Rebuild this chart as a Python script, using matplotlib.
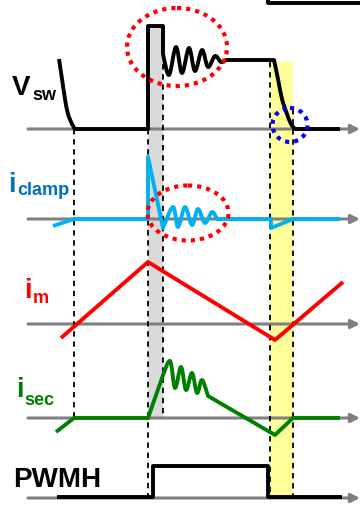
import numpy as np
import matplotlib
matplotlib.use("Agg")
import matplotlib.pyplot as plt
from matplotlib.path import Path
from matplotlib.patches import PathPatch, Ellipse, Rectangle

plt.rcParams['font.family'] = ['Liberation Sans', 'DejaVu Sans']

# ---------- waveform data (time in px, level relative to each trace's baseline, up = +) ----------
vsw_t = [59, 62, 65, 68, 72, 75, 148, 148, 163, 163, 169, 176, 182, 189, 195, 202, 208, 215, 221, 226,
         274, 278, 282, 287, 291, 295, 340]
vsw_v = [70, 50, 30, 15, 5, 0, 0, 103, 103, 75, 54, 82, 56, 81, 58, 79, 62, 73, 67, 69,
         69, 50, 30, 15, 5, 0, 0]
vsw_prev_t = [268, 268, 362]
vsw_prev_v = [131, 126, 126]

iclamp_t = [53, 74, 148, 148, 163, 173, 178, 185, 192, 198, 205, 212, 217, 271, 271, 293, 340]
iclamp_v = [-7, 0, 0, 62, -9, 12, -8, 12, -6, 10, -4, 7, 0, 0, -9, 0, 0]

im_t = [61, 148, 275, 343]
im_v = [-14, 62, -16, 42]

isec_t = [56, 74, 148, 162, 170, 175, 181, 186, 192, 197, 202, 208, 275, 293, 340]
isec_v = [-14, 0, 0, 40, 57, 30, 51, 28, 45, 25, 38, 22, -17, 0, 0]

pwmh_t = [57, 153, 153, 268, 268, 342]
pwmh_v = [0, 0, 31, 31, 0, 0]

# ---------- layout ----------
W, H = 360, 506
base_vsw, base_clamp, base_im, base_sec, base_pwm = 130, 220, 325, 419, 499
GRAY = '#808080'


def wave_path(t, v, base, spans=()):
    # straight segments, except inside spans where a smooth Bezier curve passes through the points
    p = np.column_stack([np.asarray(t, float), base - np.asarray(v, float)])
    verts, codes = [p[0]], [Path.MOVETO]
    for i in range(len(p) - 1):
        span = next((s for s in spans if s[0] <= i < s[1]), None)
        if span is None:
            verts.append(p[i + 1])
            codes.append(Path.LINETO)
        else:
            a, b = span
            p0 = p[max(i - 1, a)]
            p3 = p[min(i + 2, b)]
            c1 = p[i] + (p[i + 1] - p0) / 6
            c2 = p[i + 1] - (p3 - p[i]) / 6
            verts += [c1, c2, p[i + 1]]
            codes += [Path.CURVE4] * 3
    return Path(verts, codes)


def draw_wave(ax, t, v, base, color, spans=(), lw=2.8):
    ax.add_patch(PathPatch(wave_path(t, v, base, spans), fill=False, edgecolor=color, lw=lw,
                           capstyle='butt', joinstyle='round', zorder=5))


fig = plt.figure(figsize=(W / 100, H / 100), dpi=100)
ax = fig.add_axes([0, 0, 1, 1])
ax.set_xlim(0, W)
ax.set_ylim(H, 0)
ax.axis('off')

# shaded intervals
ax.add_patch(Rectangle((148, 25), 15, 393, facecolor='#DADADA', edgecolor='none', zorder=1))
ax.add_patch(Rectangle((270, 63), 23, 435, facecolor='#FFFF99', edgecolor='none', zorder=1))

# time axes with arrows
for y in [base_vsw, base_clamp, base_im, base_sec, base_pwm]:
    ax.annotate('', xy=(360, y), xytext=(28, y),
                arrowprops=dict(arrowstyle='-|>', color=GRAY, lw=2.2, mutation_scale=13,
                                shrinkA=0, shrinkB=0), zorder=2)

# dashed markers
dash_x = [74, 148, 163, 270, 293]
dash_top = [130, 130, 55, 63, 110]
dash_bot = [418, 498, 418, 498, 498]
for x, y0, y1 in zip(dash_x, dash_top, dash_bot):
    ax.plot([x, x], [y0, y1], color='black', lw=1.3, ls=(0, (3, 2.6)), zorder=3)

# waveforms
draw_wave(ax, vsw_t, vsw_v, base_vsw, 'black', spans=[(0, 5), (9, 19), (20, 25)])
draw_wave(ax, vsw_prev_t, vsw_prev_v, base_vsw, 'black')
draw_wave(ax, iclamp_t, iclamp_v, base_clamp, '#00B0F0', spans=[(4, 12)])
draw_wave(ax, im_t, im_v, base_im, '#FF0000')
draw_wave(ax, isec_t, isec_v, base_sec, '#008000', spans=[(3, 11)])
draw_wave(ax, pwmh_t, pwmh_v, base_pwm - 1, 'black')

# highlight rings
for (cx, cy, w, h, c) in [(177, 48, 100, 78, '#FF0000'), (188, 214, 81, 55, '#FF0000'),
                          (290, 126, 35, 34, '#0000FF')]:
    ax.add_patch(Ellipse((cx, cy), w, h, fill=False, edgecolor=c, lw=3, ls=(0, (1, 1.2)), zorder=6))

# labels
big, small = 20, 13
ax.text(12, 95, 'V', fontsize=big, fontweight='bold', color='black', va='baseline')
ax.text(32, 100, 'sw', fontsize=small, fontweight='bold', color='black', va='baseline')
ax.text(8, 192, 'i', fontsize=big, fontweight='bold', color='#0070C0', va='baseline')
ax.text(17, 195, 'clamp', fontsize=small, fontweight='bold', color='#0070C0', va='baseline')
ax.text(24, 298, 'i', fontsize=big, fontweight='bold', color='#FF0000', va='baseline')
ax.text(33, 303, 'm', fontsize=small, fontweight='bold', color='#FF0000', va='baseline')
ax.text(16, 397, 'i', fontsize=big, fontweight='bold', color='#008000', va='baseline')
ax.text(24, 405, 'sec', fontsize=small, fontweight='bold', color='#008000', va='baseline')
ax.text(13, 487, 'PWMH', fontsize=big, fontweight='bold', color='black', va='baseline')

fig.savefig('out.png', dpi=100)
